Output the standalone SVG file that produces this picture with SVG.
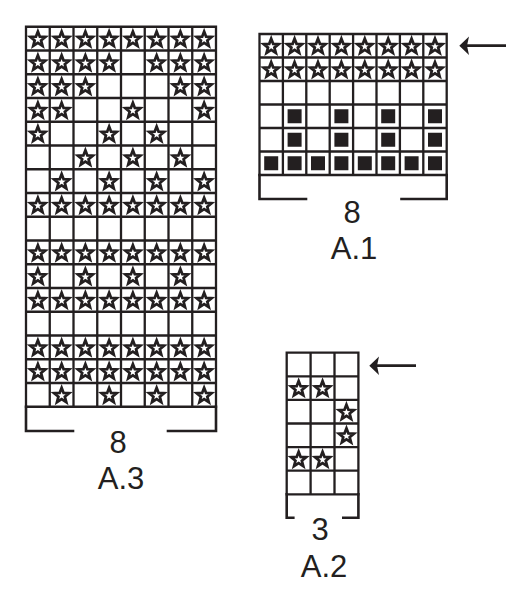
<svg xmlns="http://www.w3.org/2000/svg" xmlns:xlink="http://www.w3.org/1999/xlink" width="516" height="600" viewBox="0 0 516 600">
<style>
.bg{fill:#ffffff}
.grid{fill:none;stroke:#231f20;stroke-width:2.3}
.br{fill:none;stroke:#231f20;stroke-width:2.6;stroke-linecap:square}
.st{fill:#ffffff;stroke:#231f20;stroke-width:2.6;stroke-linejoin:miter}
.sq{fill:#231f20}
.lbl{font-family:"Liberation Sans",Arial,sans-serif;font-size:31px;fill:#231f20;text-anchor:middle}
.arr{stroke:#231f20;stroke-width:2.7;fill:none}
.ah{fill:#231f20}
</style>
<defs>
<path id="star" class="st" d="M0,-7.5 L1.881,-2.589 L7.133,-2.318 L3.043,0.989 L4.408,6.068 L0,3.2 L-4.408,6.068 L-3.043,0.989 L-7.133,-2.318 L-1.881,-2.589 Z" transform="translate(0,0.8) scale(1.05)"/>
</defs>
<rect class="bg" x="0" y="0" width="516" height="600"/>

<g id="chart-A3">
<path class="grid" d="M26,26.75H216V406.75H26Z M49.75,26.75V406.75 M73.5,26.75V406.75 M97.25,26.75V406.75 M121,26.75V406.75 M144.75,26.75V406.75 M168.5,26.75V406.75 M192.25,26.75V406.75 M26,50.5H216 M26,74.25H216 M26,98H216 M26,121.75H216 M26,145.5H216 M26,169.25H216 M26,193H216 M26,216.75H216 M26,240.5H216 M26,264.25H216 M26,288H216 M26,311.75H216 M26,335.5H216 M26,359.25H216 M26,383H216"/>
<path class="br" d="M26,406.75V431H73 M216,406.75V431H168"/>
<g>
<use href="#star" x="37.875" y="38.625"/><use href="#star" x="61.625" y="38.625"/><use href="#star" x="85.375" y="38.625"/><use href="#star" x="109.125" y="38.625"/><use href="#star" x="132.875" y="38.625"/><use href="#star" x="156.625" y="38.625"/><use href="#star" x="180.375" y="38.625"/><use href="#star" x="204.125" y="38.625"/>
<use href="#star" x="37.875" y="62.375"/><use href="#star" x="61.625" y="62.375"/><use href="#star" x="85.375" y="62.375"/><use href="#star" x="109.125" y="62.375"/><use href="#star" x="156.625" y="62.375"/><use href="#star" x="180.375" y="62.375"/><use href="#star" x="204.125" y="62.375"/>
<use href="#star" x="37.875" y="86.125"/><use href="#star" x="61.625" y="86.125"/><use href="#star" x="85.375" y="86.125"/><use href="#star" x="180.375" y="86.125"/><use href="#star" x="204.125" y="86.125"/>
<use href="#star" x="37.875" y="109.875"/><use href="#star" x="61.625" y="109.875"/><use href="#star" x="132.875" y="109.875"/><use href="#star" x="204.125" y="109.875"/>
<use href="#star" x="37.875" y="133.625"/><use href="#star" x="109.125" y="133.625"/><use href="#star" x="156.625" y="133.625"/>
<use href="#star" x="85.375" y="157.375"/><use href="#star" x="132.875" y="157.375"/><use href="#star" x="180.375" y="157.375"/>
<use href="#star" x="61.625" y="181.125"/><use href="#star" x="109.125" y="181.125"/><use href="#star" x="156.625" y="181.125"/><use href="#star" x="204.125" y="181.125"/>
<use href="#star" x="37.875" y="204.875"/><use href="#star" x="61.625" y="204.875"/><use href="#star" x="85.375" y="204.875"/><use href="#star" x="109.125" y="204.875"/><use href="#star" x="132.875" y="204.875"/><use href="#star" x="156.625" y="204.875"/><use href="#star" x="180.375" y="204.875"/><use href="#star" x="204.125" y="204.875"/>
<use href="#star" x="37.875" y="252.375"/><use href="#star" x="61.625" y="252.375"/><use href="#star" x="85.375" y="252.375"/><use href="#star" x="109.125" y="252.375"/><use href="#star" x="132.875" y="252.375"/><use href="#star" x="156.625" y="252.375"/><use href="#star" x="180.375" y="252.375"/><use href="#star" x="204.125" y="252.375"/>
<use href="#star" x="37.875" y="276.125"/><use href="#star" x="85.375" y="276.125"/><use href="#star" x="132.875" y="276.125"/><use href="#star" x="180.375" y="276.125"/>
<use href="#star" x="37.875" y="299.875"/><use href="#star" x="61.625" y="299.875"/><use href="#star" x="85.375" y="299.875"/><use href="#star" x="109.125" y="299.875"/><use href="#star" x="132.875" y="299.875"/><use href="#star" x="156.625" y="299.875"/><use href="#star" x="180.375" y="299.875"/><use href="#star" x="204.125" y="299.875"/>
<use href="#star" x="37.875" y="347.375"/><use href="#star" x="61.625" y="347.375"/><use href="#star" x="85.375" y="347.375"/><use href="#star" x="109.125" y="347.375"/><use href="#star" x="132.875" y="347.375"/><use href="#star" x="156.625" y="347.375"/><use href="#star" x="180.375" y="347.375"/><use href="#star" x="204.125" y="347.375"/>
<use href="#star" x="37.875" y="371.125"/><use href="#star" x="61.625" y="371.125"/><use href="#star" x="85.375" y="371.125"/><use href="#star" x="109.125" y="371.125"/><use href="#star" x="132.875" y="371.125"/><use href="#star" x="156.625" y="371.125"/><use href="#star" x="180.375" y="371.125"/><use href="#star" x="204.125" y="371.125"/>
<use href="#star" x="61.625" y="394.875"/><use href="#star" x="109.125" y="394.875"/><use href="#star" x="156.625" y="394.875"/><use href="#star" x="204.125" y="394.875"/>
</g>
<text class="lbl" x="118" y="453">8</text>
<text class="lbl" x="121" y="488.5">A.3</text>
</g>

<g id="chart-A1">
<path class="grid" d="M259.5,34H446.7V175H259.5Z M282.9,34V175 M306.3,34V175 M329.7,34V175 M353.1,34V175 M376.5,34V175 M399.9,34V175 M423.3,34V175 M259.5,57.5H446.7 M259.5,81H446.7 M259.5,104.5H446.7 M259.5,128H446.7 M259.5,151.5H446.7"/>
<path class="br" d="M259.5,175V199H306 M446.7,175V199H401.5"/>
<use href="#star" x="271.2" y="45.75"/><use href="#star" x="294.6" y="45.75"/><use href="#star" x="318" y="45.75"/><use href="#star" x="341.4" y="45.75"/><use href="#star" x="364.8" y="45.75"/><use href="#star" x="388.2" y="45.75"/><use href="#star" x="411.6" y="45.75"/><use href="#star" x="435" y="45.75"/>
<use href="#star" x="271.2" y="69.25"/><use href="#star" x="294.6" y="69.25"/><use href="#star" x="318" y="69.25"/><use href="#star" x="341.4" y="69.25"/><use href="#star" x="364.8" y="69.25"/><use href="#star" x="388.2" y="69.25"/><use href="#star" x="411.6" y="69.25"/><use href="#star" x="435" y="69.25"/>
<rect class="sq" x="287.6" y="109.25" width="14" height="14"/><rect class="sq" x="334.4" y="109.25" width="14" height="14"/><rect class="sq" x="381.2" y="109.25" width="14" height="14"/><rect class="sq" x="428" y="109.25" width="14" height="14"/>
<rect class="sq" x="287.6" y="132.75" width="14" height="14"/><rect class="sq" x="334.4" y="132.75" width="14" height="14"/><rect class="sq" x="381.2" y="132.75" width="14" height="14"/><rect class="sq" x="428" y="132.75" width="14" height="14"/>
<rect class="sq" x="264.2" y="156.25" width="14" height="14"/><rect class="sq" x="287.6" y="156.25" width="14" height="14"/><rect class="sq" x="311" y="156.25" width="14" height="14"/><rect class="sq" x="334.4" y="156.25" width="14" height="14"/><rect class="sq" x="357.8" y="156.25" width="14" height="14"/><rect class="sq" x="381.2" y="156.25" width="14" height="14"/><rect class="sq" x="404.6" y="156.25" width="14" height="14"/><rect class="sq" x="428" y="156.25" width="14" height="14"/>
<text class="lbl" x="352" y="223">8</text>
<text class="lbl" x="354" y="258.5">A.1</text>
</g>

<g id="chart-A2">
<path class="grid" d="M286.7,352.7H358.4V494.3H286.7Z M310.6,352.7V494.3 M334.5,352.7V494.3 M286.7,376.3H358.4 M286.7,399.9H358.4 M286.7,423.5H358.4 M286.7,447.1H358.4 M286.7,470.7H358.4"/>
<path class="br" d="M286.7,494.3V517.7H293.3 M358.4,494.3V517.7H343.3"/>
<use href="#star" x="298.65" y="388.1"/><use href="#star" x="322.55" y="388.1"/>
<use href="#star" x="346.45" y="411.7"/>
<use href="#star" x="346.45" y="435.3"/>
<use href="#star" x="298.65" y="458.9"/><use href="#star" x="322.55" y="458.9"/>
<text class="lbl" x="320" y="540">3</text>
<text class="lbl" x="324" y="576.5">A.2</text>
</g>

<g id="connectors">
<line class="arr" x1="506" y1="45.7" x2="466" y2="45.7"/>
<polygon class="ah" points="459.3,45.7 469,36.5 467,45.7 469,54.9"/>
<line class="arr" x1="416" y1="365.7" x2="376" y2="365.7"/>
<polygon class="ah" points="369.3,365.7 379,356.5 377,365.7 379,374.9"/>
</g>
</svg>
